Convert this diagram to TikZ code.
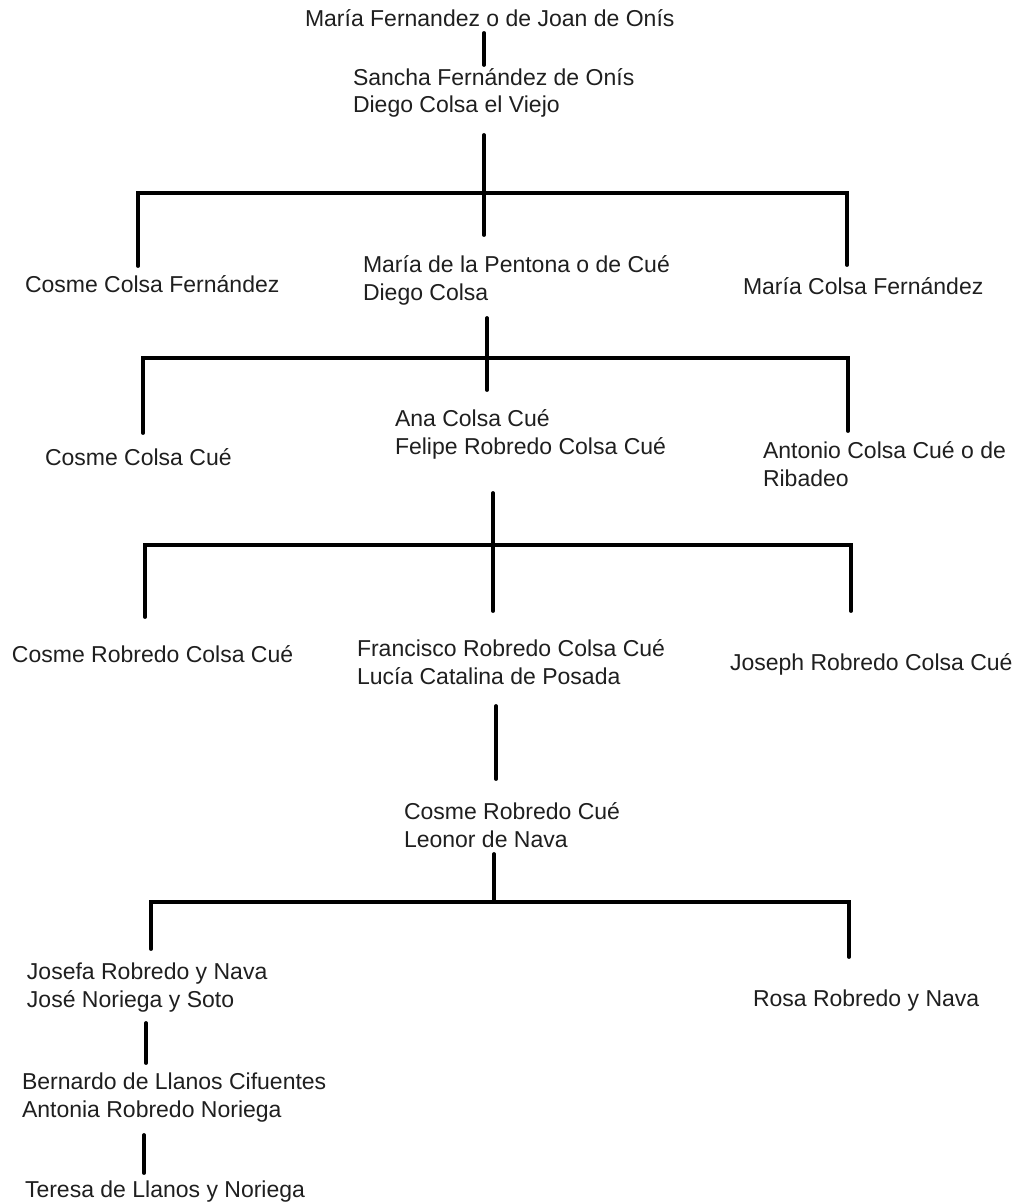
\documentclass[tikz,border=0pt]{standalone}
\usepackage{fontspec}
\setmainfont{Liberation Sans}
\begin{document}
\begin{tikzpicture}[x=1pt,y=-1pt,
  person/.style={anchor=base west,inner sep=0pt,outer sep=0pt,align=left,
    text=black!88,font=\fontsize{23}{27.5}\selectfont},
  link/.style={line width=3.8pt,line cap=round,line join=miter,draw=black}]
\path[use as bounding box,fill=white] (0,0) rectangle (1019,1204);

% people (anchor = baseline of the last line)
\node[person] (title) at (305,27) {María Fernandez o de Joan de Onís};
\node[person] (sancha) at (353,113) {Sancha Fernández de Onís\\Diego Colsa el Viejo};
\node[person] (cosmeCF) at (25,292) {Cosme Colsa Fernández};
\node[person] (pentona) at (363,300) {María de la Pentona o de Cué\\Diego Colsa};
\node[person] (mariaCF) at (743,294) {María Colsa Fernández};
\node[person] (cosmeCC) at (45,465) {Cosme Colsa Cué};
\node[person] (ana) at (395,454) {Ana Colsa Cué\\Felipe Robredo Colsa Cué};
\node[person] (antonio) at (763,486) {Antonio Colsa Cué o de\\Ribadeo};
\node[person] (cosmeRCC) at (12,662) {Cosme Robredo Colsa Cué};
\node[person] (francisco) at (357,684) {Francisco Robredo Colsa Cué\\Lucía Catalina de Posada};
\node[person] (joseph) at (730,670) {Joseph Robredo Colsa Cué};
\node[person] (cosmeRC) at (404,847) {Cosme Robredo Cué\\Leonor de Nava};
\node[person] (josefa) at (27,1007) {Josefa Robredo y Nava\\José Noriega y Soto};
\node[person] (rosa) at (753,1006) {Rosa Robredo y Nava};
\node[person] (bernardo) at (22,1117) {Bernardo de Llanos Cifuentes\\Antonia Robredo Noriega};
\node[person] (teresa) at (25,1197) {Teresa de Llanos y Noriega};

% junction coordinates
\coordinate (a1) at (484,33);   \coordinate (a2) at (484,65);
\coordinate (b0) at (484,135);  \coordinate (b1) at (484,193); \coordinate (b2) at (484,235);
\coordinate (bL) at (138,193);  \coordinate (bLd) at (138,266);
\coordinate (bR) at (847,193);  \coordinate (bRd) at (847,265);
\coordinate (c0) at (487,318);  \coordinate (c1) at (487,358); \coordinate (c2) at (487,390);
\coordinate (cL) at (143,358);  \coordinate (cLd) at (143,433);
\coordinate (cR) at (848,358);  \coordinate (cRd) at (848,431);
\coordinate (d0) at (493,493);  \coordinate (d1) at (493,545); \coordinate (d2) at (493,611);
\coordinate (dL) at (145,545);  \coordinate (dLd) at (145,617);
\coordinate (dR) at (851,545);  \coordinate (dRd) at (851,611);
\coordinate (e0) at (496,706);  \coordinate (e1) at (496,779);
\coordinate (f0) at (494,854);  \coordinate (f1) at (494,902);
\coordinate (fL) at (151,902);  \coordinate (fLd) at (151,949);
\coordinate (fR) at (849,902);  \coordinate (fRd) at (849,957);
\coordinate (g0) at (146,1023); \coordinate (g1) at (146,1063);
\coordinate (h0) at (144,1135); \coordinate (h1) at (144,1173);

% connectors
\draw[link] (a1) -- (a2);
\draw[link] (b0) -- (b2);
\draw[link] (bLd) -- (bL) -- (bR) -- (bRd);
\draw[link] (c0) -- (c2);
\draw[link] (cLd) -- (cL) -- (cR) -- (cRd);
\draw[link] (d0) -- (d2);
\draw[link] (dLd) -- (dL) -- (dR) -- (dRd);
\draw[link] (e0) -- (e1);
\draw[link] (f0) -- (f1);
\draw[link] (fLd) -- (fL) -- (fR) -- (fRd);
\draw[link] (g0) -- (g1);
\draw[link] (h0) -- (h1);
\end{tikzpicture}
\end{document}
